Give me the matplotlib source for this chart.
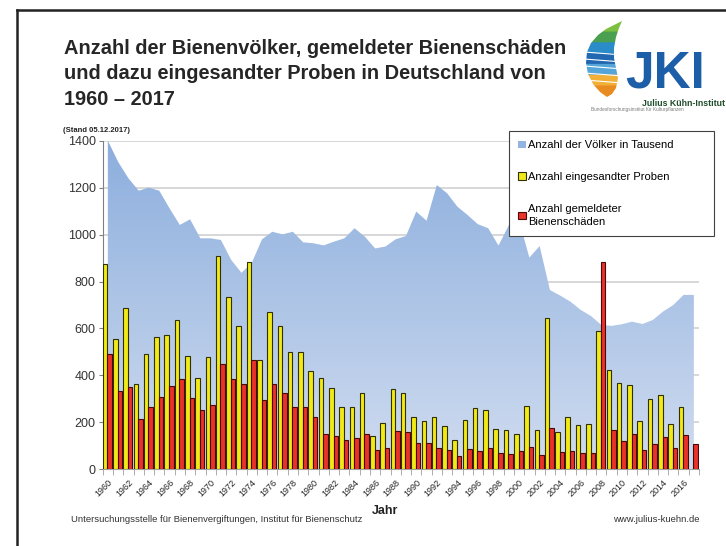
import matplotlib.pyplot as plt
import numpy as np
from matplotlib.patches import Patch, Polygon

plt.rcParams['font.family'] = ['Liberation Sans', 'DejaVu Sans']

jahre = list(range(1960, 2018))
# Anzahl der Völker in Tausend
voelker = [1400, 1310, 1240, 1187, 1200, 1187, 1112, 1041, 1065, 984, 984, 977, 892, 837,
           880, 980, 1012, 1001, 1012, 967, 963, 954, 970, 984, 1027, 991, 941, 949, 980, 994,
           1098, 1059, 1211, 1176, 1119, 1083, 1044, 1027, 953, 1040, 1060, 902, 951,
           764, 740, 714, 679, 653, 615, 611, 618, 629, 619, 636, 672, 700, 743, 743]
# eingesandte Proben (2017 noch offen)
proben = [873, 555, 686, 362, 490, 562, 571, 635, 484, 388, 477, 907, 733, 609,
          882, 467, 672, 611, 498, 498, 417, 388, 345, 266, 266, 324, 143, 199, 342, 324,
          224, 207, 224, 186, 125, 212, 260, 254, 172, 169, 149, 268, 166,
          643, 158, 222, 190, 192, 589, 423, 366, 361, 204, 301, 315, 192, 266, np.nan]
# gemeldete Bienenschäden
schaeden = [493, 334, 349, 213, 264, 307, 356, 383, 302, 251, 273, 447, 386, 364,
            466, 294, 362, 324, 264, 264, 222, 151, 143, 124, 135, 149, 82, 89, 163, 159,
            114, 111, 92, 81, 57, 88, 78, 91, 68, 64, 80, 95, 61,
            178, 72, 77, 68, 68, 885, 166, 122, 149, 81, 108, 139, 92, 145, 109]

W, H = 726, 546
fig = plt.figure(figsize=(W / 100, H / 100), dpi=100)
fig.patch.set_facecolor('white')

ax = fig.add_axes([102.7 / W, 1 - 469.3 / H, 596.3 / W, 328.6 / H])
x = np.arange(len(jahre))

ax.set_xlim(-0.5, len(jahre) - 0.5)
ax.set_ylim(0, 1400)
ax.set_yticks(range(0, 1401, 200))
ax.yaxis.grid(True, color='#d4d4d4', lw=1.3, zorder=0)
ax.set_axisbelow(True)

# Fläche mit Farbverlauf
fill = ax.fill_between(x, voelker, 0, color='none', lw=0, zorder=1)
grad = np.linspace(0, 1, 256).reshape(-1, 1)
top = np.array([0x8c, 0xae, 0xdd]) / 255
bot = np.array([0xd0, 0xdc, 0xf0]) / 255
cols = bot + (top - bot) * grad
img = ax.imshow(cols[:, None, :].repeat(2, axis=1), extent=[-0.5, len(jahre) - 0.5, 0, 1400],
                origin='lower', aspect='auto', zorder=1)
img.set_clip_path(fill.get_paths()[0], transform=ax.transData)

bw = 0.44
py = np.array(proben, dtype=float)
sy = np.array(schaeden, dtype=float)
m = ~np.isnan(py)
# Schatten
ax.bar(x[m] - 0.27 + 0.09, py[m] - 4, width=bw, color='#a0a0a0', lw=0, zorder=2)
ax.bar(x + 0.17 + 0.09, sy - 4, width=bw, color='#a0a0a0', lw=0, zorder=2)
ax.bar(x[m] - 0.27, py[m], width=bw, color='#f2ea18', edgecolor='#303000', lw=0.8, zorder=3)
ax.bar(x + 0.17, sy, width=bw, color='#e8322a', edgecolor='#4a0808', lw=0.8, zorder=3)

for s in ['top', 'right']:
    ax.spines[s].set_visible(False)
ax.spines['left'].set_color('#808080')
ax.spines['bottom'].set_color('#a0a0a0')
ax.tick_params(axis='y', length=3, color='#808080', labelsize=9, labelcolor='#333333', pad=2)

ax.set_xticks(x[::2])
ax.set_xticklabels([str(j) for j in jahre[::2]], rotation=45, ha='right',
                   rotation_mode='anchor', fontsize=6.5, color='#222222')
ax.set_xticks(np.arange(-0.5, len(jahre), 1), minor=True)
ax.tick_params(axis='x', which='major', length=0, pad=6)
ax.tick_params(axis='x', which='minor', length=4, color='#a0a0a0')

handles = [Patch(facecolor='#95b3e0', edgecolor='none'),
           Patch(facecolor='#f2ea18', edgecolor='#303000', lw=0.8),
           Patch(facecolor='#e8322a', edgecolor='#4a0808', lw=0.8)]
labels = ['Anzahl der Völker in Tausend', 'Anzahl eingesandter Proben',
          'Anzahl gemeldeter\nBienenschäden']
leg = fig.legend(handles, labels, loc='upper left',
                 bbox_to_anchor=(509 / W, 1 - 131 / H - 0.01, 205 / W, 0.01), mode='expand',
                 borderaxespad=0, fontsize=8, frameon=True, fancybox=False,
                 edgecolor='#404040', framealpha=1, handlelength=0.7, handleheight=0.7,
                 handletextpad=0.2, labelspacing=1.95, borderpad=0.85)
leg.get_frame().set_linewidth(0.8)
for t in leg.get_texts():
    t.set_linespacing(1.4)

# Titel und Beschriftungen
fig.text(64 / W, 1 - 39 / H,
         'Anzahl der Bienenvölker, gemeldeter Bienenschäden\n'
         'und dazu eingesandter Proben in Deutschland von\n1960 – 2017',
         fontsize=14.4, fontweight='bold', color='#262626', va='top', ha='left',
         linespacing=1.42)
fig.text(63 / W, 1 - 131 / H, '(Stand 05.12.2017)', fontsize=5.5, fontweight='bold',
         color='#222222', va='center', ha='left')
fig.text(385 / W, 1 - 511 / H, 'Jahr', fontsize=9, fontweight='bold', color='#222222',
         ha='center', va='center')
fig.text(71 / W, 1 - 520 / H,
         'Untersuchungsstelle für Bienenvergiftungen, Institut für Bienenschutz',
         fontsize=6.8, color='#333333', ha='left', va='center')
fig.text(700 / W, 1 - 520 / H, 'www.julius-kuehn.de', fontsize=6.8, color='#333333',
         ha='right', va='center')

# Rahmen oben und links
fig.add_artist(plt.Line2D([17 / W, 1], [1 - 10 / H, 1 - 10 / H], color='#222222', lw=1.8))
fig.add_artist(plt.Line2D([17 / W, 17 / W], [0, 1 - 10 / H], color='#222222', lw=1.8))

# Logo
lg = fig.add_axes([580 / W, 1 - 120 / H, 146 / W, 100 / H])
lg.set_xlim(580, 726)
lg.set_ylim(120, 20)
lg.axis('off')
blatt = Polygon([(607, 97), (600, 92), (593, 84), (588, 74), (586, 63), (587, 52),
                 (591, 43), (598, 35), (606, 29), (614, 25), (622, 21), (619, 28),
                 (616, 37), (614, 48), (614, 58), (616, 68), (618, 78), (616, 88),
                 (612, 94)], closed=True, facecolor='none', edgecolor='none')
lg.add_patch(blatt)
bands = np.array([[0x7c, 0xc0, 0x40], [0x4a, 0xa0, 0x50], [0x2a, 0x8c, 0xc8],
                  [0x22, 0x68, 0xb0], [0x55, 0xa5, 0xd8], [0xf2, 0xb0, 0x38],
                  [0xe8, 0x8c, 0x22]]) / 255
gy = np.linspace(0, 1, 100)
idx = np.minimum((gy * len(bands)).astype(int), len(bands) - 1)
bild = lg.imshow(bands[idx][:, None, :].repeat(2, axis=1), extent=[584, 623, 97, 20],
                 origin='upper', aspect='auto')
bild.set_clip_path(blatt)
for yy in [52, 59, 66, 73, 80]:
    lg.plot([584, 623], [yy, yy + 3], color='white', lw=0.8)
lg.text(625, 88, 'JKI', fontsize=37, fontweight='bold', color='#1d5ea8', ha='left',
        va='baseline')
lg.text(642, 103, 'Julius Kühn-Institut', fontsize=6.3, fontweight='bold', color='#1f4d2a',
        ha='left', va='center')
lg.text(591, 110, 'Bundesforschungsinstitut für Kulturpflanzen', fontsize=3.4,
        color='#7a7a7a', ha='left', va='center')

fig.savefig('out.png', dpi=100, facecolor='white')
